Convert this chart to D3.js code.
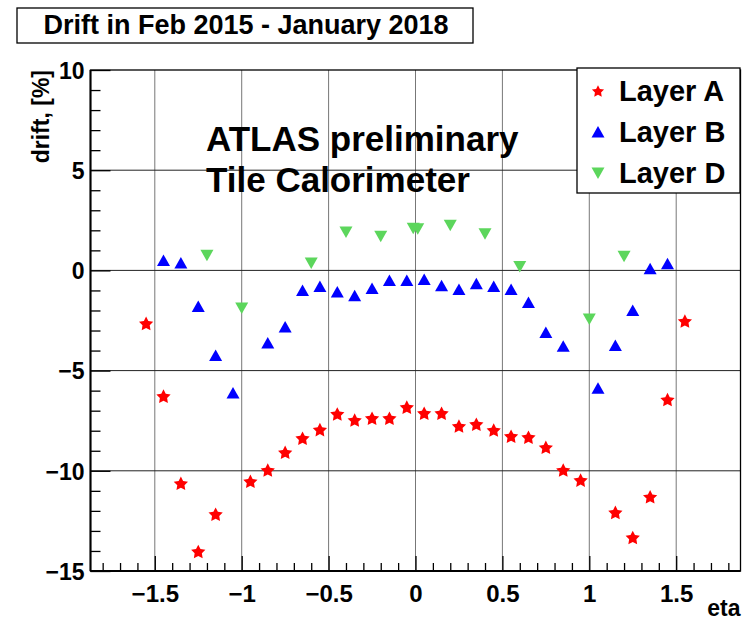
<!DOCTYPE html>
<html>
<head>
<meta charset="utf-8">
<script src="https://cdn.jsdelivr.net/npm/d3@7"></script>
<style>
  body { margin: 0; background: #fff; }
  svg text { font-family: "Liberation Sans", Arial, Helvetica, sans-serif; font-weight: bold; fill: #000; }
</style>
</head>
<body>
<svg id="chart" width="752" height="621"></svg>
<script>
// ---- data ----
const etaA = [-1.55,-1.45,-1.35,-1.25,-1.15,-0.95,-0.85,-0.75,-0.65,-0.55,-0.45,-0.35,-0.25,-0.15,-0.05,
              0.05,0.15,0.25,0.35,0.45,0.55,0.65,0.75,0.85,0.95,1.15,1.25,1.35,1.45,1.55];
const driftA = [-2.65,-6.28,-10.63,-14.03,-12.17,-10.53,-9.97,-9.08,-8.38,-7.95,-7.17,-7.47,-7.38,-7.38,-6.83,
                -7.13,-7.13,-7.77,-7.68,-7.97,-8.28,-8.33,-8.83,-9.97,-10.47,-12.08,-13.33,-11.3,-6.45,-2.53];
const etaB = [-1.45,-1.35,-1.25,-1.15,-1.05,-0.85,-0.75,-0.65,-0.55,-0.45,-0.35,-0.25,-0.15,-0.05,
              0.05,0.15,0.25,0.35,0.45,0.55,0.65,0.75,0.85,1.05,1.15,1.25,1.35,1.45];
const driftB = [0.5,0.37,-1.8,-4.25,-6.12,-3.62,-2.83,-1.0,-0.8,-1.08,-1.27,-0.9,-0.5,-0.5,
                -0.45,-0.77,-0.95,-0.67,-0.8,-0.95,-1.6,-3.1,-3.78,-5.88,-3.75,-2.0,0.08,0.33];
const etaD = [-1.2,-1.0,-0.6,-0.4,-0.2,-0.013,0.013,0.2,0.4,0.6,1.0,1.2];
const driftD = [0.75,-1.88,0.37,1.92,1.7,2.1,2.08,2.25,1.83,0.2,-2.42,0.7];
const xMajorTicks = [-1.5,-1,-0.5,0,0.5,1,1.5];
const xTickLabels = ["\u22121.5","\u22121","\u22120.5","0","0.5","1","1.5"];
const yMajorTicks = [-15,-10,-5,0,5,10];
const yTickLabels = ["\u221215","\u221210","\u22125","0","5","10"];
const legendLabels = ["Layer A","Layer B","Layer D"];
const seriesColors = ["#ff0000","#0000ff","#5cd65c"];
const titleText = "Drift in Feb 2015 - January 2018";

// ---- layout ----
const svg = d3.select("#chart");
const L = 90.5, R = 740.5, T = 70, B = 571;
const x = d3.scaleLinear().domain([-1.87, 1.87]).range([L, R]);
const y = d3.scaleLinear().domain([-15, 10]).range([B, T]);

svg.append("rect").attr("width",752).attr("height",621).attr("fill","#fff");

// grid
const g = svg.append("g");
g.selectAll("line.vg").data(xMajorTicks).join("line")
  .attr("x1", d=>x(d)).attr("x2", d=>x(d)).attr("y1", T).attr("y2", B)
  .attr("stroke", "#777").attr("stroke-width", 1);
g.selectAll("line.hg").data(yMajorTicks.filter(d=>d>-15 && d<10)).join("line")
  .attr("x1", L).attr("x2", R).attr("y1", d=>y(d)).attr("y2", d=>y(d))
  .attr("stroke", "#222").attr("stroke-width", 1);

// axes ticks (inward)
const xMinor = d3.range(-18, 19).map(i => i/10).filter(v => Math.abs(Math.round(v*2) - v*2) > 1e-6);
svg.append("g").attr("transform", `translate(0,${B})`)
  .call(d3.axisBottom(x).tickValues(xMinor).tickSizeInner(-8).tickSizeOuter(0).tickFormat(""))
  .call(s => s.select(".domain").remove())
  .call(s => s.selectAll("line").attr("stroke","#000").attr("stroke-width",1.3));
svg.append("g").attr("transform", `translate(0,${B})`)
  .call(d3.axisBottom(x).tickValues(xMajorTicks).tickSizeInner(-15).tickSizeOuter(0)
        .tickFormat((d,i)=>xTickLabels[i]))
  .call(s => s.select(".domain").remove())
  .call(s => s.selectAll("line").attr("stroke","#000").attr("stroke-width",1.3))
  .call(s => s.selectAll("text").attr("font-size", 24).attr("dy", null).attr("y", 31)
        .style("font-family","Liberation Sans, Arial").style("font-weight","bold"));

const yMinor = d3.range(-14, 10).filter(v => v % 5 !== 0);
svg.append("g").attr("transform", `translate(${L},0)`)
  .call(d3.axisLeft(y).tickValues(yMinor).tickSizeInner(-10).tickSizeOuter(0).tickFormat(""))
  .call(s => s.select(".domain").remove())
  .call(s => s.selectAll("line").attr("stroke","#000").attr("stroke-width",1.3));
svg.append("g").attr("transform", `translate(${L},0)`)
  .call(d3.axisLeft(y).tickValues(yMajorTicks).tickSizeInner(-20).tickSizeOuter(0)
        .tickFormat((d,i)=>yTickLabels[i]))
  .call(s => s.select(".domain").remove())
  .call(s => s.selectAll("line").attr("stroke","#000").attr("stroke-width",1.3))
  .call(s => s.selectAll("text").attr("font-size", 23).attr("x", -6).attr("dy", "0.36em")
        .style("font-family","Liberation Sans, Arial").style("font-weight","bold"));

// frame
svg.append("rect").attr("x", L).attr("y", T).attr("width", R-L).attr("height", B-T)
  .attr("fill","none").attr("stroke","#000").attr("stroke-width",1.3);
svg.append("line").attr("x1",L).attr("x2",R).attr("y1",B).attr("y2",B).attr("stroke","#000").attr("stroke-width",2);
svg.append("line").attr("x1",L).attr("x2",L).attr("y1",T).attr("y2",B).attr("stroke","#000").attr("stroke-width",2);

// axis titles
svg.append("text").attr("x", R).attr("y", 616).attr("text-anchor","end").attr("font-size",23).text("eta");
svg.append("text").attr("transform","translate(49,70) rotate(-90)").attr("text-anchor","end")
  .attr("font-size",23).text("drift, [%]");

// ATLAS text
svg.append("text").attr("x",206).attr("y",151).attr("font-size",35).text("ATLAS preliminary");
svg.append("text").attr("x",206).attr("y",192).attr("font-size",35).text("Tile Calorimeter");

// markers
const starPath = (() => {
  const pts = [];
  for (let k = 0; k < 10; k++) {
    const r = k % 2 === 0 ? 7.5 : 3.8;
    const a = -Math.PI/2 + k * Math.PI/5;
    pts.push([r*Math.cos(a), r*Math.sin(a) + 0.6]);
  }
  return "M" + pts.map(p => p[0].toFixed(2)+","+p[1].toFixed(2)).join("L") + "Z";
})();
const triUp = (cx, cy) => `M${cx-6.5},${cy+5.5}L${cx+6.5},${cy+5.5}L${cx},${cy-6}Z`;
const triDown = (cx, cy) => `M${cx-6.5},${cy-5.5}L${cx+6.5},${cy-5.5}L${cx},${cy+6}Z`;

svg.append("g").selectAll("path").data(etaA.map((e,i)=>[e, driftA[i]])).join("path")
  .attr("d", starPath).attr("transform", d=>`translate(${x(d[0])},${y(d[1])})`)
  .attr("fill", seriesColors[0]);
svg.append("g").selectAll("path").data(etaB.map((e,i)=>[e, driftB[i]])).join("path")
  .attr("d", d=>triUp(x(d[0]), y(d[1]))).attr("fill", seriesColors[1]);
svg.append("g").selectAll("path").data(etaD.map((e,i)=>[e, driftD[i]])).join("path")
  .attr("d", d=>triDown(x(d[0]), y(d[1]))).attr("fill", seriesColors[2]);

// legend
const lg = svg.append("g");
lg.append("rect").attr("x",577).attr("y",68).attr("width",163).attr("height",125)
  .attr("fill","#fff").attr("stroke","#000").attr("stroke-width",1.3);
const legY = [91, 132, 173];
lg.append("path").attr("d", starPath).attr("transform",`translate(598,${legY[0]}) scale(0.85)`).attr("fill",seriesColors[0]);
lg.append("path").attr("d", triUp(598, legY[1])).attr("fill",seriesColors[1]);
lg.append("path").attr("d", triDown(598, legY[2])).attr("fill",seriesColors[2]);
lg.selectAll("text").data(legendLabels).join("text")
  .attr("x", 619).attr("y", (d,i)=>legY[i]+10).attr("font-size", 29).text(d=>d);

// title box
svg.append("rect").attr("x",17).attr("y",8).attr("width",456).attr("height",35)
  .attr("fill","#fff").attr("stroke","#000").attr("stroke-width",1.3);
svg.append("text").attr("x",246).attr("y",34).attr("text-anchor","middle").attr("font-size",27).text(titleText);
</script>
</body>
</html>
